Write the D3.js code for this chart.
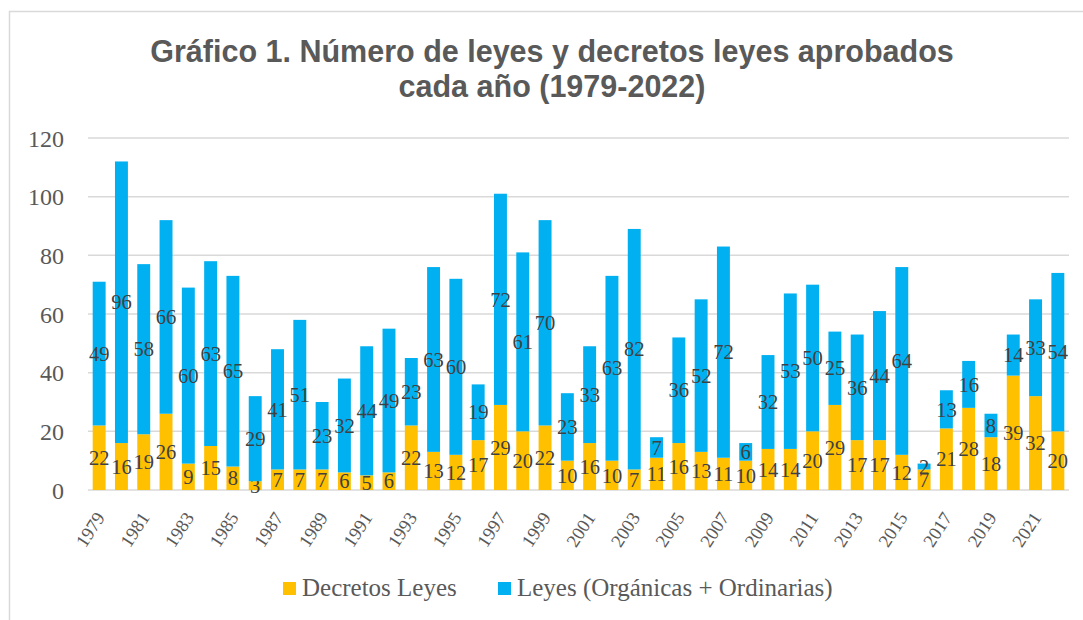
<!DOCTYPE html>
<meta charset="utf-8">
<style>
    body {
        margin: 0;
        background: #fff;
    }

    .title {
        font: bold 30.5px "Liberation Sans", Arial, sans-serif;
        fill: #595959;
    }

    .axis text {
        font-family: "Liberation Serif", serif;
        fill: #595959;
    }

    .label {
        font: 20.5px "Liberation Serif", serif;
        fill: #404040;
    }

    .legend text {
        font: 25px "Liberation Serif", serif;
        fill: #595959;
    }
</style>
<body>
<script src="https://cdn.jsdelivr.net/npm/d3@7"></script>
<script>

    var years = d3.range(1979, 2023);

    var decretos = [22, 16, 19, 26, 9, 15, 8, 3, 7, 7, 7, 6, 5, 6, 22, 13, 12, 17, 29, 20, 22, 10,
                    16, 10, 7, 11, 16, 13, 11, 10, 14, 14, 20, 29, 17, 17, 12, 7, 21, 28, 18, 39, 32, 20];

    var leyes = [49, 96, 58, 66, 60, 63, 65, 29, 41, 51, 23, 32, 44, 49, 23, 63, 60, 19, 72, 61, 70, 23,
                 33, 63, 82, 7, 36, 52, 72, 6, 32, 53, 50, 25, 36, 44, 64, 2, 13, 16, 8, 14, 33, 54];

    var seriesNames = ["Decretos Leyes", "Leyes (Orgánicas + Ordinarias)"];
    var colors = ["#FFC000", "#00B0F0"];
    var yTicks = [0, 20, 40, 60, 80, 100, 120];

    var width = 1083, height = 620;
    var margin = {top: 138, right: 14, bottom: 130, left: 88};
    var innerW = 1069 - margin.left,
        innerH = 490 - margin.top;

    var svg = d3.select("body").append("svg")
            .attr("width", width)
            .attr("height", height);

    // chart frame
    svg.append("rect")
            .attr("x", 9.5)
            .attr("y", 11.5)
            .attr("width", 1100)
            .attr("height", 700)
            .attr("fill", "#fff")
            .attr("stroke", "#D9D9D9")
            .attr("stroke-width", 1.5);

    svg.append("text")
            .attr("class", "title")
            .attr("text-anchor", "middle")
            .attr("x", 552)
            .attr("y", 62)
            .text("Gráfico 1. Número de leyes y decretos leyes aprobados");

    svg.append("text")
            .attr("class", "title")
            .attr("text-anchor", "middle")
            .attr("x", 552)
            .attr("y", 97)
            .text("cada año (1979-2022)");

    var g = svg.append("g")
            .attr("transform", "translate(" + margin.left + "," + margin.top + ")");

    var x = d3.scaleBand()
            .domain(years)
            .range([0, innerW])
            .paddingInner(0.42)
            .paddingOuter(0.21);

    var y = d3.scaleLinear()
            .domain([0, 120])
            .range([innerH, 0]);

    // gridlines
    g.append("g")
            .selectAll("line")
            .data(yTicks)
            .join("line")
            .attr("x1", 0)
            .attr("x2", innerW)
            .attr("y1", function(d) { return y(d); })
            .attr("y2", function(d) { return y(d); })
            .attr("stroke", "#D9D9D9")
            .attr("stroke-width", 1.5);

    var yAxis = g.append("g")
            .attr("class", "axis")
            .call(d3.axisLeft(y).tickValues(yTicks).tickSize(0).tickPadding(24));
    yAxis.select(".domain").remove();
    yAxis.selectAll("text").style("font-size", "24px").attr("dy", "0.34em");

    var xAxis = g.append("g")
            .attr("class", "axis")
            .attr("transform", "translate(0," + innerH + ")")
            .call(d3.axisBottom(x)
                .tickValues(years.filter(function(d) { return (d - 1979) % 2 === 0; }))
                .tickSize(0));
    xAxis.select(".domain").remove();
    xAxis.selectAll("text")
            .style("font-size", "18.5px")
            .attr("text-anchor", "end")
            .attr("y", 0)
            .attr("dy", "0.35em")
            .attr("transform", "translate(1,24) rotate(-57)");

    var stacked = years.map(function(yr, i) {
        return {year: yr, d: decretos[i], l: leyes[i]};
    });

    var stack = d3.stack().keys(["d", "l"])(stacked);

    var layers = g.selectAll("g.layer")
            .data(stack)
            .join("g")
            .attr("class", "layer")
            .attr("fill", function(d, i) { return colors[i]; });

    layers.selectAll("rect")
            .data(function(d) { return d; })
            .join("rect")
            .attr("x", function(d) { return x(d.data.year); })
            .attr("width", x.bandwidth())
            .attr("y", function(d) { return y(d[1]); })
            .attr("height", function(d) { return y(d[0]) - y(d[1]); });

    layers.selectAll("text")
            .data(function(d) { return d; })
            .join("text")
            .attr("class", "label")
            .attr("text-anchor", "middle")
            .attr("dy", "0.35em")
            .attr("x", function(d) { return x(d.data.year) + x.bandwidth() / 2; })
            .attr("y", function(d) { return y((d[0] + d[1]) / 2); })
            .text(function(d) { return d[1] - d[0]; });

    // legend
    var legendX = [283, 498];
    var legend = svg.append("g")
            .attr("class", "legend")
            .selectAll("g")
            .data(seriesNames)
            .join("g")
            .attr("transform", function(d, i) { return "translate(" + legendX[i] + ",582)"; });

    legend.append("rect")
            .attr("width", 13)
            .attr("height", 13)
            .attr("fill", function(d, i) { return colors[i]; });

    legend.append("text")
            .attr("x", 19)
            .attr("y", 14)
            .text(function(d) { return d; });

</script>
